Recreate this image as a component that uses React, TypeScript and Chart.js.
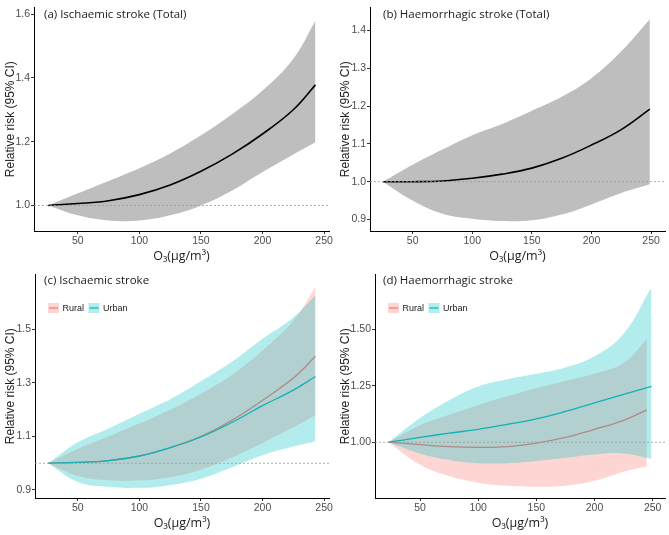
import React, { useEffect, useRef } from 'react';
import { Chart, registerables } from 'chart.js';

Chart.register(...registerables);

// ---------- Data ----------
// Panel (a) Ischaemic stroke (Total)
const xA = [26, 50, 75, 100, 125, 150, 175, 200, 225, 243];
const meanA = [1.0, 1.006, 1.015, 1.034, 1.064, 1.107, 1.16, 1.224, 1.3, 1.378];
const upperA = [1.0, 1.038, 1.077, 1.117, 1.163, 1.22, 1.285, 1.36, 1.46, 1.58];
const lowerA = [1.0, 0.969, 0.953, 0.953, 0.969, 1.0, 1.046, 1.105, 1.16, 1.198];

// Panel (b) Haemorrhagic stroke (Total)
const xB = [25, 50, 75, 100, 125, 150, 175, 200, 225, 249];
const meanB = [1.0, 1.0, 1.002, 1.009, 1.02, 1.036, 1.062, 1.097, 1.138, 1.192];
const upperB = [1.0, 1.045, 1.085, 1.123, 1.153, 1.188, 1.225, 1.274, 1.345, 1.43];
const lowerB = [1.0, 0.95, 0.915, 0.902, 0.896, 0.898, 0.913, 0.94, 0.97, 0.993];

// Panel (c) Ischaemic stroke, rural vs urban
const xC = [26, 50, 75, 100, 125, 150, 175, 200, 225, 243];
const ruralMeanC = [1.0, 1.003, 1.01, 1.027, 1.058, 1.1, 1.16, 1.235, 1.318, 1.4];
const ruralUpperC = [1.0, 1.054, 1.1, 1.148, 1.2, 1.26, 1.33, 1.421, 1.532, 1.658];
const ruralLowerC = [1.0, 0.952, 0.936, 0.936, 0.948, 0.976, 1.021, 1.076, 1.134, 1.179];
const urbanMeanC = [1.0, 1.003, 1.01, 1.027, 1.058, 1.098, 1.152, 1.215, 1.273, 1.324];
const urbanUpperC = [1.0, 1.078, 1.13, 1.185, 1.239, 1.306, 1.379, 1.465, 1.545, 1.627];
const urbanLowerC = [1.0, 0.93, 0.912, 0.908, 0.918, 0.942, 0.985, 1.03, 1.062, 1.082];

// Panel (d) Haemorrhagic stroke, rural vs urban
const xRuralD = [23, 50, 75, 100, 125, 150, 175, 200, 225, 245];
const ruralMeanD = [1.0, 0.989, 0.98, 0.977, 0.98, 0.996, 1.021, 1.057, 1.097, 1.143];
const ruralUpperD = [1.0, 1.074, 1.121, 1.164, 1.203, 1.239, 1.271, 1.303, 1.35, 1.457];
const ruralLowerD = [1.0, 0.9, 0.85, 0.821, 0.807, 0.803, 0.807, 0.829, 0.869, 0.893];
const xUrbanD = [23, 50, 75, 100, 125, 150, 175, 200, 225, 249];
const urbanMeanD = [1.0, 1.021, 1.04, 1.057, 1.079, 1.103, 1.136, 1.174, 1.212, 1.247];
const urbanUpperD = [1.0, 1.107, 1.186, 1.247, 1.279, 1.303, 1.331, 1.38, 1.48, 1.686];
const urbanLowerD = [1.0, 0.95, 0.921, 0.907, 0.907, 0.917, 0.931, 0.946, 0.95, 0.926];

// Ticks
const xTicks = [50, 100, 150, 200, 250];
const yTicksA = [1.0, 1.2, 1.4, 1.6];
const yTicksB = [0.9, 1.0, 1.1, 1.2, 1.3, 1.4];
const yTicksC = [0.9, 1.1, 1.3, 1.5];
const yTicksD = [1.0, 1.25, 1.5];

const titles = [
  '(a) Ischaemic stroke (Total)',
  '(b) Haemorrhagic stroke (Total)',
  '(c) Ischaemic stroke',
  '(d) Haemorrhagic stroke',
];
const groupLabels = ['Rural', 'Urban'];
const refValue = 1.0;

const yTitle = 'Relative risk (95% CI)';
const xTitle = 'O\u2083(\u03BCg/m\u00B3)';

// ---------- Styles ----------
const RURAL_LINE = '#F8766D';
const RURAL_FILL = 'rgba(248,118,109,0.3)';
const URBAN_LINE = '#0FB3B7';
const URBAN_FILL = 'rgba(0,191,196,0.3)';
const TOTAL_FILL = '#BEBEBE';
const TOTAL_LINE = '#000000';

type Series = {
  xs: number[];
  mean: number[];
  upper: number[];
  lower: number[];
  line: string;
  fill: string;
  width: number;
};

type PanelCfg = {
  left: number;
  top: number;
  width: number;
  height: number;
  axisW: number;
  axisH: number;
  padTop: number;
  padRight: number;
  xMin: number;
  xMax: number;
  yMin: number;
  yMax: number;
  yTicks: number[];
  decimals: number;
  title: string;
  titleDx: number;
  titleY: number;
  series: Series[]; // first series drawn on top
  legend?: { label: string; line: string; fill: string }[];
  xTitlePad: number;
};

const pts = (xs: number[], ys: number[]) => xs.map((x, i) => ({ x, y: ys[i] }));

function Panel({ cfg }: { cfg: PanelCfg }) {
  const ref = useRef<HTMLCanvasElement | null>(null);
  useEffect(() => {
    if (!ref.current) return;
    const datasets: any[] = [];
    cfg.series.forEach((s) => {
      datasets.push({
        data: pts(s.xs, s.mean),
        borderColor: s.line,
        borderWidth: s.width,
        pointRadius: 0,
        fill: false,
        tension: 0.4,
      });
      datasets.push({
        data: pts(s.xs, s.upper),
        borderWidth: 0,
        borderColor: 'rgba(0,0,0,0)',
        backgroundColor: s.fill,
        pointRadius: 0,
        fill: '+1',
        tension: 0.4,
      });
      datasets.push({
        data: pts(s.xs, s.lower),
        borderWidth: 0,
        borderColor: 'rgba(0,0,0,0)',
        pointRadius: 0,
        fill: false,
        tension: 0.4,
      });
    });

    const decor = {
      id: 'decor',
      afterDatasetsDraw(chart: any) {
        const { ctx, chartArea, scales } = chart;
        const y = scales.y.getPixelForValue(refValue);
        ctx.save();
        ctx.strokeStyle = '#9a9a9a';
        ctx.lineWidth = 0.8;
        ctx.setLineDash([2, 2]);
        ctx.beginPath();
        ctx.moveTo(chartArea.left, y);
        ctx.lineTo(chartArea.right, y);
        ctx.stroke();
        ctx.restore();
      },
      afterDraw(chart: any) {
        const { ctx, chartArea } = chart;
        ctx.save();
        ctx.fillStyle = '#1a1a1a';
        ctx.font = '11.5px "Open Sans"';
        ctx.textBaseline = 'middle';
        ctx.textAlign = 'left';
        ctx.fillText(cfg.title, chartArea.left + cfg.titleDx, cfg.titleY);
        if (cfg.legend) {
          let x = chartArea.left + 13;
          const cy = 41;
          ctx.font = '9px "Liberation Sans"';
          cfg.legend.forEach((item) => {
            ctx.fillStyle = '#ffffff';
            ctx.fillRect(x, cy - 5, 11, 10);
            ctx.fillStyle = item.fill;
            ctx.fillRect(x, cy - 5, 11, 10);
            ctx.strokeStyle = item.line;
            ctx.lineWidth = 1.2;
            ctx.beginPath();
            ctx.moveTo(x + 1, cy);
            ctx.lineTo(x + 10, cy);
            ctx.stroke();
            x += 14.5;
            ctx.fillStyle = '#1a1a1a';
            ctx.fillText(item.label, x, cy + 0.5);
            x += ctx.measureText(item.label).width + 4.5;
          });
        }
        ctx.restore();
      },
    };

    const chart = new Chart(ref.current, {
      type: 'line',
      data: { datasets },
      options: {
        animation: false,
        responsive: false,
        maintainAspectRatio: false,
        events: [],
        layout: { padding: { left: 0, right: cfg.padRight, top: cfg.padTop, bottom: 0 } },
        plugins: {
          legend: { display: false },
          tooltip: { enabled: false },
          title: { display: false },
        },
        scales: {
          x: {
            type: 'linear',
            min: cfg.xMin,
            max: cfg.xMax,
            afterBuildTicks: (s: any) => {
              s.ticks = xTicks.map((v) => ({ value: v }));
            },
            afterFit: (s: any) => {
              s.height = cfg.axisH;
            },
            grid: { drawOnChartArea: false, tickLength: 3, color: '#333333' },
            border: { display: true, color: '#000000', width: 1 },
            ticks: {
              autoSkip: false,
              maxRotation: 0,
              padding: 1,
              color: '#4d4d4d',
              font: { family: '"Liberation Sans"', size: 10.5 },
              callback: (v: any) => String(v),
            },
            title: {
              display: true,
              text: xTitle,
              color: '#1a1a1a',
              font: { family: '"Open Sans"', size: 12.5 },
              padding: { top: 0, bottom: cfg.xTitlePad },
            },
          },
          y: {
            type: 'linear',
            min: cfg.yMin,
            max: cfg.yMax,
            afterBuildTicks: (s: any) => {
              s.ticks = cfg.yTicks.map((v) => ({ value: v }));
            },
            afterFit: (s: any) => {
              s.width = cfg.axisW;
            },
            grid: { drawOnChartArea: false, tickLength: 3, color: '#333333' },
            border: { display: true, color: '#000000', width: 1 },
            ticks: {
              padding: 1,
              color: '#4d4d4d',
              font: { family: '"Liberation Sans"', size: 10.5 },
              callback: (v: any) => Number(v).toFixed(cfg.decimals),
            },
            title: {
              display: true,
              text: yTitle,
              color: '#1a1a1a',
              font: { family: '"Liberation Sans"', size: 12 },
              padding: { top: 3, bottom: 0 },
            },
          },
        },
      } as any,
      plugins: [decor],
    });
    return () => chart.destroy();
  }, [cfg]);

  return (
    <canvas
      ref={ref}
      width={cfg.width}
      height={cfg.height}
      style={{ position: 'absolute', left: cfg.left, top: cfg.top, width: cfg.width, height: cfg.height }}
    />
  );
}

const legendItems = [
  { label: groupLabels[0], line: RURAL_LINE, fill: RURAL_FILL },
  { label: groupLabels[1], line: URBAN_LINE, fill: URBAN_FILL },
];

const panels: PanelCfg[] = [
  {
    left: 0, top: 0, width: 335, height: 267, axisW: 34, axisH: 36, padTop: 2, padRight: 6,
    xMin: 14.4, xMax: 254, yMin: 0.92, yMax: 1.621, yTicks: yTicksA, decimals: 1,
    title: titles[0], titleDx: 10, titleY: 15, xTitlePad: 3,
    series: [{ xs: xA, mean: meanA, upper: upperA, lower: lowerA, line: TOTAL_LINE, fill: TOTAL_FILL, width: 1.6 }],
  },
  {
    left: 335, top: 0, width: 334, height: 267, axisW: 35, axisH: 36, padTop: 3, padRight: 4,
    xMin: 14.2, xMax: 261.7, yMin: 0.8696, yMax: 1.4615, yTicks: yTicksB, decimals: 1,
    title: titles[1], titleDx: 13, titleY: 15, xTitlePad: 3,
    series: [{ xs: xB, mean: meanB, upper: upperB, lower: lowerB, line: TOTAL_LINE, fill: TOTAL_FILL, width: 1.6 }],
  },
  {
    left: 0, top: 267, width: 335, height: 268, axisW: 35, axisH: 37, padTop: 1, padRight: 6,
    xMin: 15.2, xMax: 254, yMin: 0.87, yMax: 1.706, yTicks: yTicksC, decimals: 1,
    title: titles[2], titleDx: 9, titleY: 14, xTitlePad: 4,
    series: [
      { xs: xC, mean: urbanMeanC, upper: urbanUpperC, lower: urbanLowerC, line: URBAN_LINE, fill: URBAN_FILL, width: 1.3 },
      { xs: xC, mean: ruralMeanC, upper: ruralUpperC, lower: ruralLowerC, line: RURAL_LINE, fill: RURAL_FILL, width: 1.3 },
    ],
    legend: legendItems,
  },
  {
    left: 335, top: 267, width: 334, height: 268, axisW: 40, axisH: 37, padTop: 1, padRight: 4,
    xMin: 11.3, xMax: 260.6, yMin: 0.753, yMax: 1.743, yTicks: yTicksD, decimals: 2,
    title: titles[3], titleDx: 8, titleY: 14, xTitlePad: 4,
    series: [
      { xs: xUrbanD, mean: urbanMeanD, upper: urbanUpperD, lower: urbanLowerD, line: URBAN_LINE, fill: URBAN_FILL, width: 1.3 },
      { xs: xRuralD, mean: ruralMeanD, upper: ruralUpperD, lower: ruralLowerD, line: RURAL_LINE, fill: RURAL_FILL, width: 1.3 },
    ],
    legend: legendItems,
  },
];

export default function App() {
  return (
    <div style={{ position: 'absolute', left: 0, top: 0, width: 669, height: 535, background: '#ffffff' }}>
      {panels.map((p, i) => (
        <Panel key={i} cfg={p} />
      ))}
    </div>
  );
}
